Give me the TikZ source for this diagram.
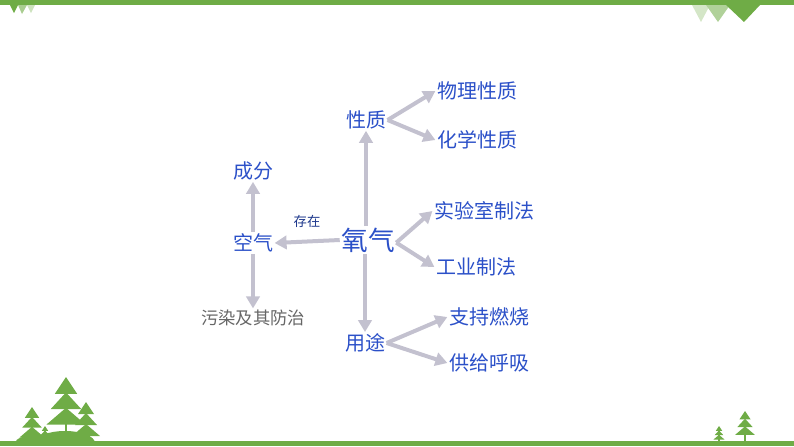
\documentclass[tikz,border=0pt]{standalone}
\usepackage{fontspec}
\newfontfamily\cjk{Noto Sans CJK SC}
\usetikzlibrary{arrows.meta}
\definecolor{gr}{HTML}{6FAC46}
\definecolor{tb}{HTML}{2B50C8}
\definecolor{ar}{HTML}{C3C1CF}
\tikzset{
 t/.style={font=\cjk\fontsize{15}{15}\selectfont,text=tb,inner sep=1pt},
 big/.style={font=\cjk\fontsize{20}{20}\selectfont,text=tb,inner sep=1pt},
 sm/.style={font=\cjk\fontsize{10}{10}\selectfont,text=tb!70!black,inner sep=1pt},
 gy/.style={font=\cjk\fontsize{13}{13}\selectfont,text=gray!80!black,inner sep=1pt},
 a/.style={draw=ar,line width=3pt,-{Triangle[length=9pt,width=10pt]}}
}
\begin{document}
\begin{tikzpicture}[x=0.75pt,y=-0.75pt]
\useasboundingbox (0,0) rectangle (794,447);
% top bar
\fill[gr] (0,0) rectangle (794,5);
\fill[gr] (10,5)--(18,5)--(14,13)--cycle;
\fill[gr!60] (18,5)--(27,5)--(22,14)--cycle;
\fill[gr!35] (27,5)--(35,5)--(31,13)--cycle;
\fill[gr!30] (692,5)--(710,5)--(701,22)--cycle;
\fill[gr!55] (706,5)--(730,5)--(718,22)--cycle;
\fill[gr] (726,5)--(760,5)--(744,22)--cycle;
% bottom
\fill[gr] (0,441) rectangle (794,446);
\fill[gr] (15,443) arc (180:360:22 and 8) -- cycle;
\fill[gr] (35,443) arc (180:360:30 and 12) -- cycle;
\foreach \x/\y/\h in {32/425/18, 66/405/28, 86/422/20, 45/434/8, 719/434/8, 745/425/14}{
 \fill[gr] (\x-1.3,\y) rectangle (\x+1.3,443);
 \foreach \k in {0,1,2}{
  \fill[gr] (\x-\h*0.4-\k*\h*0.15,\y-\h+\k*\h*0.55+\h*0.6) -- (\x,\y-\h+\k*\h*0.55) -- (\x+\h*0.4+\k*\h*0.15,\y-\h+\k*\h*0.55+\h*0.6) -- cycle;
 }
}
% nodes
\node[big] (o) at (368,240) {氧气};
\node[t] (xz) at (366,120) {性质};
\node[t] (wl) at (477,91) {物理性质};
\node[t] (hx) at (477,140) {化学性质};
\node[t] (cf) at (253,171) {成分};
\node[sm] (cz) at (307,221) {存在};
\node[t] (kq) at (253,243) {空气};
\node[t] (sy) at (484,211) {实验室制法};
\node[t] (gy) at (476,267) {工业制法};
\node[gy] (wr) at (253,318) {污染及其防治};
\node[t] (yt) at (365,343) {用途};
\node[t] (zc) at (489,317) {支持燃烧};
\node[t] (gg) at (489,363) {供给呼吸};
% arrows
\draw[a] (o.north -| xz) -- (xz.south);
\draw[a] (o.south -| yt) -- (yt.north);
\draw[a] (o.west) -- (kq.east);
\draw[a] (kq.north) -- (cf.south);
\draw[a] (kq.south) -- (wr.north);
\draw[a] (xz.east) -- (wl.west);
\draw[a] (xz.east) -- (hx.west);
\draw[a] ([yshift=-2pt]o.east) -- (sy.west);
\draw[a] ([yshift=-2pt]o.east) -- (gy.west);
\draw[a] (yt.east) -- (zc.west);
\draw[a] (yt.east) -- (gg.west);
\end{tikzpicture}
\end{document}
